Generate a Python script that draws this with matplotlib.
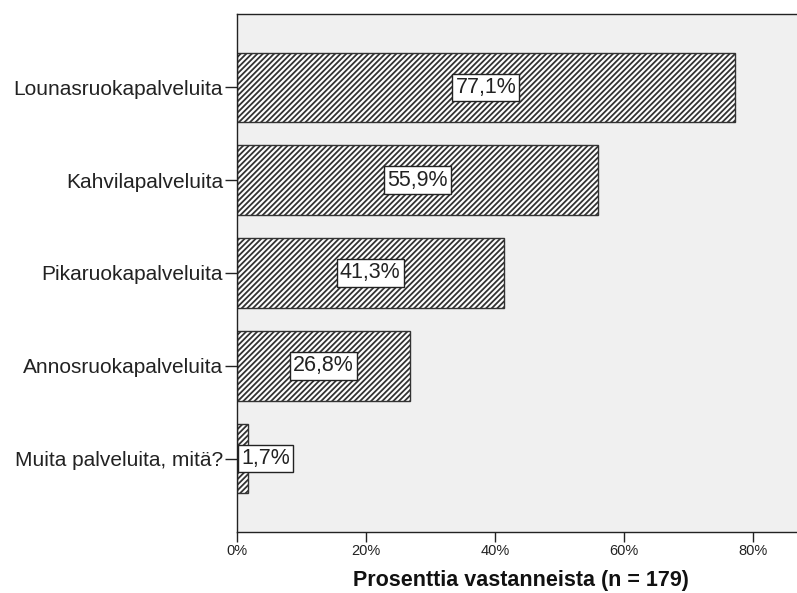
import matplotlib
matplotlib.use("Agg")
import matplotlib.pyplot as plt
from matplotlib.ticker import FixedLocator

plt.rcParams['font.family'] = ['Liberation Sans', 'DejaVu Sans']
plt.rcParams['hatch.linewidth'] = 1.3
plt.rcParams['hatch.color'] = '#333333'

categories = ["Lounasruokapalveluita", "Kahvilapalveluita", "Pikaruokapalveluita",
              "Annosruokapalveluita", "Muita palveluita, mitä?"]
values = [77.1, 55.9, 41.3, 26.8, 1.7]
labels = ["77,1%", "55,9%", "41,3%", "26,8%", "1,7%"]
xticks = [0, 20, 40, 60, 80]
xticklabels = ["0%", "20%", "40%", "60%", "80%"]

fig = plt.figure(figsize=(7.97, 5.93), dpi=100)
ax = fig.add_axes([0.2974, 0.1029, 0.7026 + 0.01, 0.8735])
ax.set_facecolor('#f0f0f0')
ypos = list(range(len(categories)))
ax.barh(ypos, values, height=0.75, color='white', edgecolor='#333333',
        hatch='//////', linewidth=1.0, zorder=2)
box = dict(boxstyle='square,pad=0.15', fc='white', ec='#222222', lw=1)
for y, v, lab in zip(ypos, values, labels):
    if v < 10:
        ax.text(0.6, y, lab, ha='left', va='center', fontsize=15.5, color='#222222',
                bbox=box, zorder=3)
    else:
        ax.text(v / 2, y, lab, ha='center', va='center', fontsize=15.5, color='#222222',
                bbox=box, zorder=3)

ax.set_xlim(0, 88)
ax.set_ylim(4.79, -0.79)
ax.set_yticks(ypos)
ax.set_yticklabels(categories, fontsize=15, color='#222222')
ax.xaxis.set_major_locator(FixedLocator(xticks))
ax.set_xticklabels(xticklabels, fontsize=10.5, color='#222222')
ax.tick_params(axis='y', length=9, width=1, direction='out', colors='#222222', pad=1)
ax.tick_params(axis='x', length=7, width=1, direction='out', colors='#222222', pad=2)
ax.set_xlabel("Prosenttia vastanneista (n = 179)", fontsize=15.5, fontweight='bold',
              labelpad=8.5, color='#111111')
for s in ['left', 'bottom', 'top']:
    ax.spines[s].set_color('#222222')
    ax.spines[s].set_linewidth(1)
ax.spines['right'].set_visible(False)

fig.savefig("out.png", dpi=100)
